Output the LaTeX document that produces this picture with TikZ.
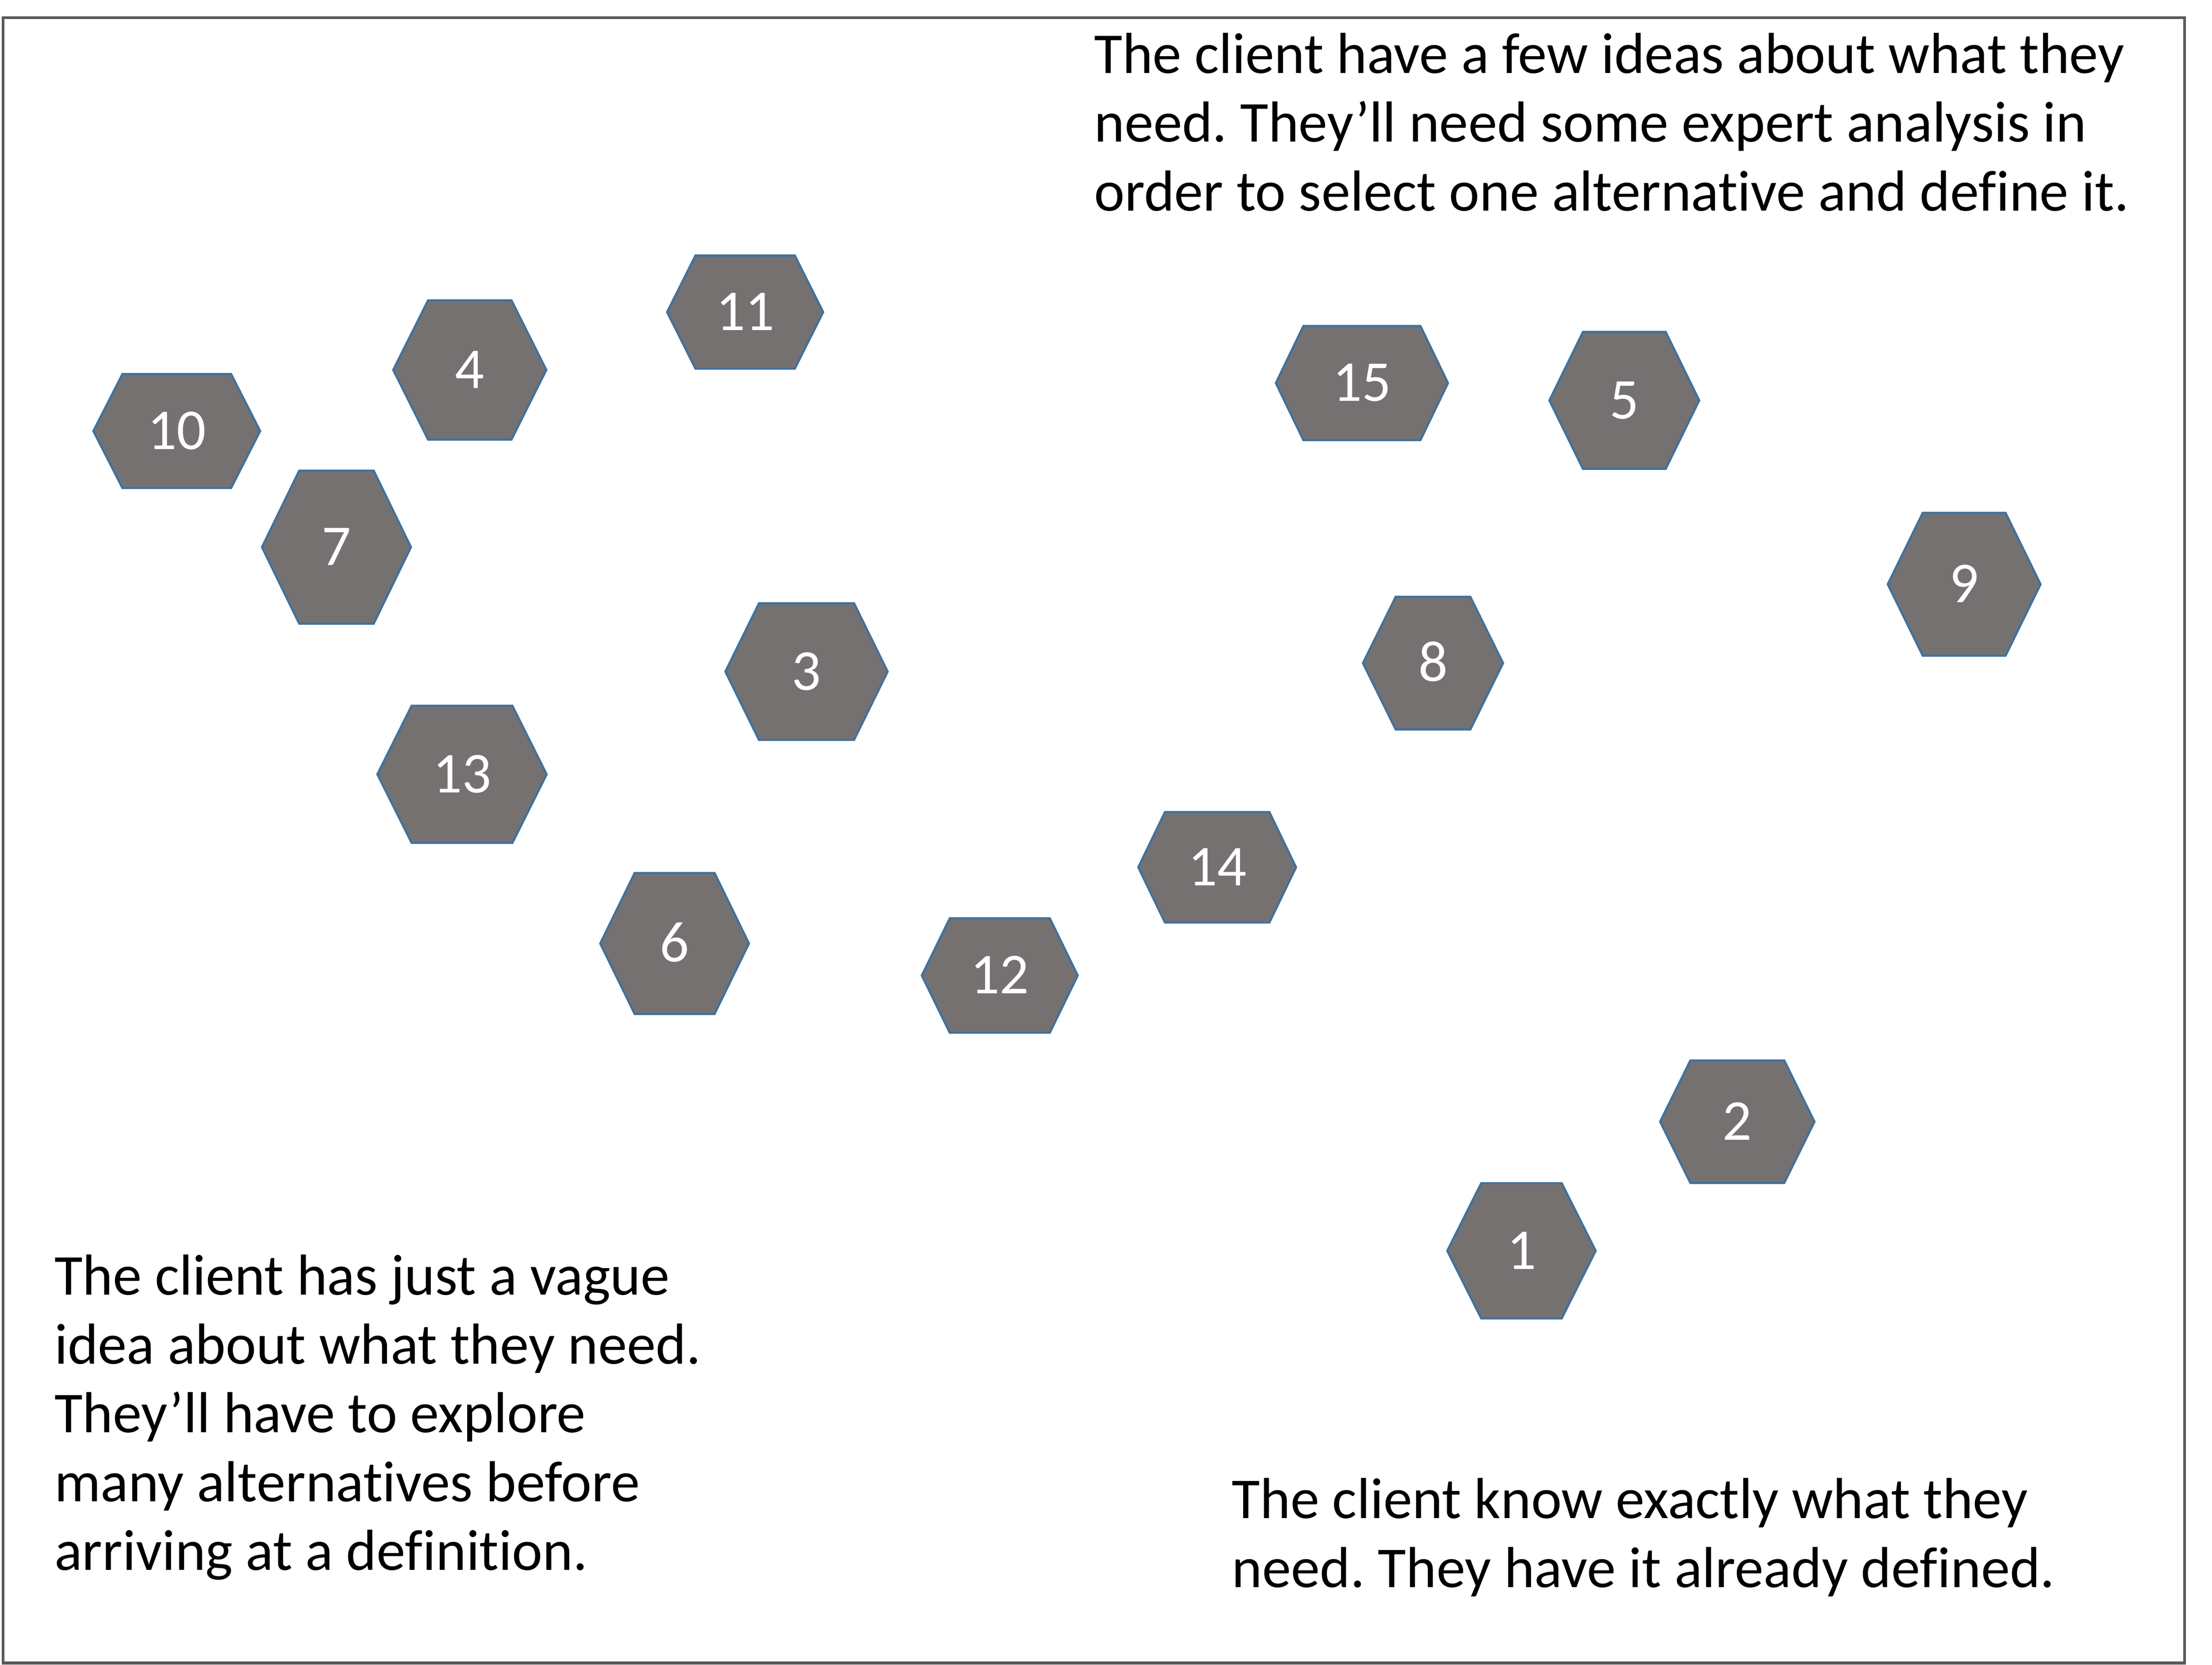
\documentclass[tikz,border=0pt]{standalone}
\usepackage{fontspec}
\setmainfont{Carlito}[Ligatures=NoCommon]
\frenchspacing
\definecolor{hexfill}{HTML}{767171}
\definecolor{hexline}{HTML}{41719C}
\definecolor{framecol}{HTML}{595959}
\tikzset{
  hexstyle/.style={fill=hexfill, draw=hexline, line width=1.3pt, line join=miter},
  hexlabel/.style={text=white, inner sep=0pt, anchor=base, font=\fontsize{35}{41.6}\selectfont},
  bodytext/.style={text=black, inner sep=0pt, anchor=base west, align=left, font=\fontsize{35}{41.6}\selectfont},
  framebox/.style={draw=framecol, line width=1.7pt}
}
% name, cx, cy, width, height, inset, label
\newcommand\hexnode[7]{%
  \draw[hexstyle] ({#2-#4/2},{#3}) -- ({#2-#4/2+#6},{#3-#5/2}) -- ({#2+#4/2-#6},{#3-#5/2})
    -- ({#2+#4/2},{#3}) -- ({#2+#4/2-#6},{#3+#5/2}) -- ({#2-#4/2+#6},{#3+#5/2}) -- cycle;
  \node[hexlabel] (#1) at ({#2},{#3+12.9}) {#7};
}
\begin{document}
\begin{tikzpicture}[x=0.03cm, y=-0.03cm]
\useasboundingbox (0,0) rectangle (1568,1180);
\draw[framebox] (2.1,12.6) rectangle (1548.6,1178.6);

\hexnode{h10}{125.3}{305.5}{118.2}{80.8}{20.6}{10}
\hexnode{h4}{333}{262.2}{108.5}{98.7}{24.7}{4}
\hexnode{h11}{528.2}{221.2}{110.6}{80.2}{20.1}{11}
\hexnode{h7}{238.5}{387.8}{105.6}{108.4}{26.4}{7}
\hexnode{h3}{571.7}{476}{115}{96.8}{23.8}{3}
\hexnode{h13}{327.5}{548.8}{120}{97.2}{24.3}{13}
\hexnode{h6}{478.2}{668.7}{105.4}{99.9}{24.4}{6}
\hexnode{h12}{708.7}{691.4}{110.5}{81.1}{19.8}{12}
\hexnode{h14}{862.8}{614.7}{111.8}{78.3}{18.9}{14}
\hexnode{h15}{965.4}{271.5}{122}{80.8}{19.5}{15}
\hexnode{h5}{1151.4}{283.8}{106.2}{97.1}{23.8}{5}
\hexnode{h8}{1015.8}{470}{99.3}{94}{23.2}{8}
\hexnode{h9}{1392.3}{414.1}{108.3}{101.2}{24.8}{9}
\hexnode{h2}{1231.5}{795}{109.4}{86.7}{21.4}{2}
\hexnode{h1}{1078.5}{886.5}{105.2}{95.9}{24.1}{1}

\node[bodytext] (ttop) at (775.4,149.3) {The client have a few ideas about what they\\need. They’ll need some expert analysis in\\order to select one alternative and define it.};
\node[bodytext] (tleft) at (38.4,1112.8) {The client has just a vague\\idea about what they need.\\They’ll have to explore\\many alternatives before\\arriving at a definition.};
\node[bodytext] (tright) at (873.1,1124.9) {The client know exactly what they\\need. They have it already defined.};
\end{tikzpicture}
\end{document}
